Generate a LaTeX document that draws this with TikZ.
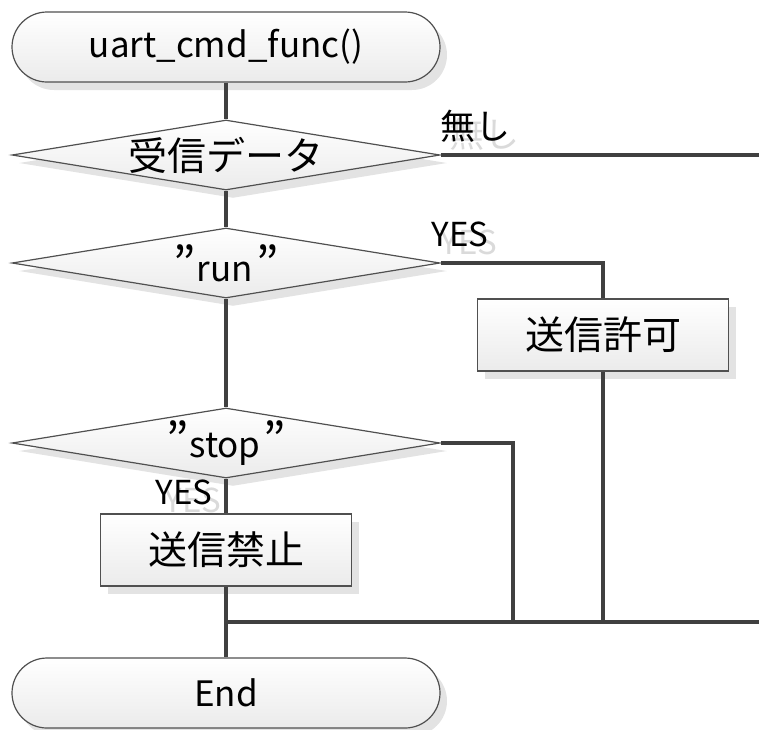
\documentclass[tikz,border=0pt]{standalone}
\usepackage{fontspec}
\setmainfont{Noto Sans CJK JP}
\usetikzlibrary{shapes.geometric,shadows}
\definecolor{conn}{HTML}{404040}
\definecolor{edge}{HTML}{505050}
\definecolor{shadowc}{HTML}{E3E3E3}
\definecolor{ghost}{HTML}{DADADA}
\definecolor{fillbot}{HTML}{EBEBEB}
\newcommand\ghosted[1]{\makebox[0pt][l]{\hspace{9pt}\raisebox{-8pt}[0pt][0pt]{\textcolor{ghost}{#1}}}#1}
\newcommand\bigq{\scalebox{1.35}{”}}
\begin{document}
\begin{tikzpicture}[x=1pt,y=-1pt,
  lat/.style={font=\fontsize{35}{40}\selectfont, text=black},
  cjk/.style={font=\fontsize{39}{44}\selectfont, text=black},
  shp/.style={draw=edge, line width=1.2pt, top color=white, bottom color=fillbot,
    drop shadow={shadow xshift=7pt, shadow yshift=-8pt, fill=shadowc, opacity=1}},
  term/.style={shp, rectangle, rounded corners=35pt, minimum width=428pt, minimum height=70pt, inner sep=0pt},
  dec/.style={shp, diamond, aspect=6.1, minimum width=428pt, minimum height=70pt, inner sep=0pt},
  proc/.style={shp, rectangle, minimum width=251pt, minimum height=72pt, inner sep=0pt},
  line/.style={draw=conn, line width=4pt},
  yes/.style={font=\fontsize{33}{38}\selectfont, text=black},
  nash/.style={font=\fontsize{35}{40}\selectfont, text=black}
]
\useasboundingbox (0,0) rectangle (759,729);
% shapes
\node[term, lat] (start) at (226,47) {uart\_cmd\_func()};
\node[dec, label={[cjk]center:受信データ}] (d1) at (226,155) {};
\node[dec, label={[lat]center:\bigq\hspace{1pt}run\hspace{3pt}\bigq}] (d2) at (226,263) {};
\node[proc, cjk] (a1) at (603,335) {送信許可};
\node[dec, label={[lat]center:\bigq\hspace{1pt}stop\hspace{3pt}\bigq}] (d3) at (226,443) {};
\node[proc, cjk] (b1) at (226,550) {送信禁止};
\node[term, lat] (end) at (226,693) {End};
% coordinates
\coordinate (r1) at (759,155);
\coordinate (j) at (226,622);
\coordinate (jr) at (759,622);
\coordinate (s1) at (513,443);
\coordinate (s2) at (513,622);
\coordinate (a2) at (603,622);
% labels (with their light text shadows)
\node[nash] (l1) at (475,126) {\ghosted{無し}};
\node[yes] (l2) at (460,234) {\ghosted{YES}};
\node[yes] (l3) at (184,492) {\ghosted{YES}};
% connectors
\draw[line] (start.south) -- (d1.north);
\draw[line] (d1.east) -- (r1);
\draw[line] (d1.south) -- (d2.north);
\draw[line] (d2.east) -| (a1.north);
\draw[line] (d2.south) -- (d3.north);
\draw[line] (d3.east) -- (s1) -- (s2);
\draw[line] (a1.south) -- (a2);
\draw[line] (d3.south) -- (b1.north);
\draw[line] (b1.south) -- (end.north);
\draw[line] (j) -- (jr);
\end{tikzpicture}
\end{document}
